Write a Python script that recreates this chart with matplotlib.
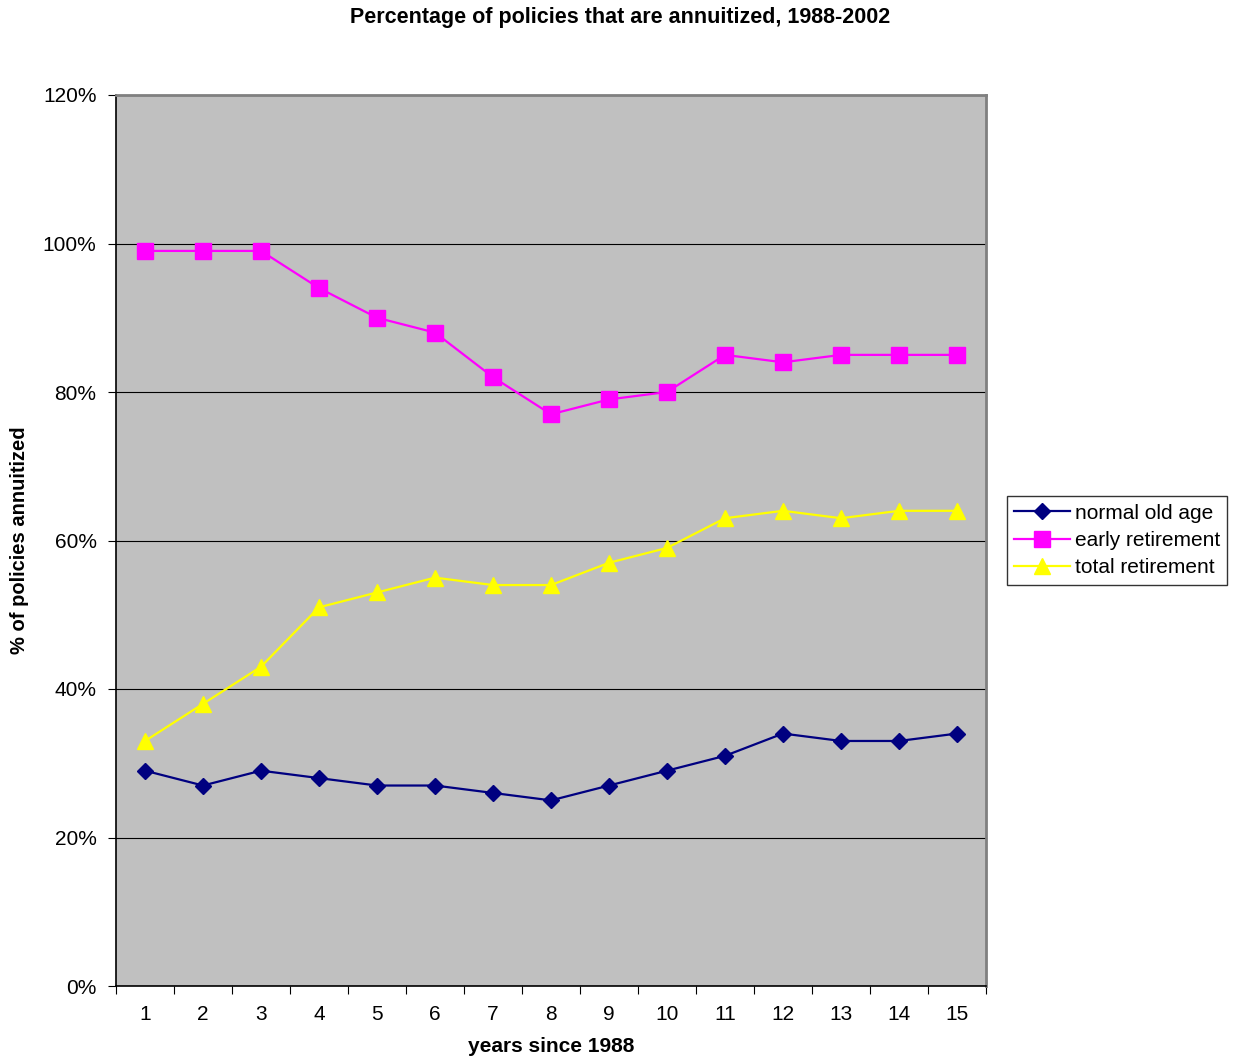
import matplotlib.pyplot as plt
import matplotlib.ticker as mticker

plt.rcParams['font.family'] = ['Liberation Sans', 'DejaVu Sans']

years = list(range(1, 16))
normal_old_age = [29, 27, 29, 28, 27, 27, 26, 25, 27, 29, 31, 34, 33, 33, 34]
early_retirement = [99, 99, 99, 94, 90, 88, 82, 77, 79, 80, 85, 84, 85, 85, 85]
total_retirement = [33, 38, 43, 51, 53, 55, 54, 54, 57, 59, 63, 64, 63, 64, 64]

fig = plt.figure(figsize=(12.4, 10.62), dpi=100)
ax = fig.add_axes([116 / 1240, 76 / 1062, 870 / 1240, 891 / 1062])
ax.set_facecolor('#C0C0C0')

ax.plot(years, normal_old_age, color='#000080', marker='D', markersize=8,
        linewidth=1.6, label='normal old age', zorder=3)
ax.plot(years, early_retirement, color='#FF00FF', marker='s', markersize=11,
        linewidth=1.6, label='early retirement', zorder=3)
ax.plot(years, total_retirement, color='#FFFF00', marker='^', markersize=11,
        linewidth=1.6, label='total retirement', zorder=3)

ax.set_xlim(0.5, 15.5)
ax.set_ylim(0, 120)
ax.set_yticks(range(0, 121, 20))
ax.yaxis.set_major_formatter(mticker.FuncFormatter(lambda v, p: f'{int(v)}%'))
ax.set_xticks([x + 0.5 for x in range(0, 16)])
ax.set_xticklabels([])
ax.set_xticks(years, minor=True)
ax.set_xticklabels([str(y) for y in years], minor=True)
ax.tick_params(axis='x', which='minor', length=0, pad=14, labelsize=15)
ax.tick_params(axis='x', which='major', length=6, direction='out')
ax.tick_params(axis='y', length=6, direction='out', labelsize=15, pad=8)

ax.grid(axis='y', color='black', linewidth=0.8)
ax.set_axisbelow(True)

for side in ['left', 'bottom']:
    ax.spines[side].set_color('black')
    ax.spines[side].set_linewidth(1.2)
for side in ['top', 'right']:
    ax.spines[side].set_color('#808080')
    ax.spines[side].set_linewidth(2)

fig.suptitle('Percentage of policies that are annuitized, 1988-2002',
             fontsize=15.5, fontweight='bold', y=0.993)
ax.set_xlabel('years since 1988', fontsize=15, fontweight='bold', labelpad=9)
ax.set_ylabel('% of policies annuitized', fontsize=14.5, fontweight='bold',
              labelpad=10)

leg = ax.legend(loc='center left', bbox_to_anchor=(1.024, 0.5), fontsize=15,
                frameon=True, fancybox=False, edgecolor='black',
                handlelength=2.7, borderpad=0.35, labelspacing=0.4,
                handletextpad=0.2, borderaxespad=0)
leg.get_frame().set_linewidth(1)

fig.savefig('out.png', dpi=100)
